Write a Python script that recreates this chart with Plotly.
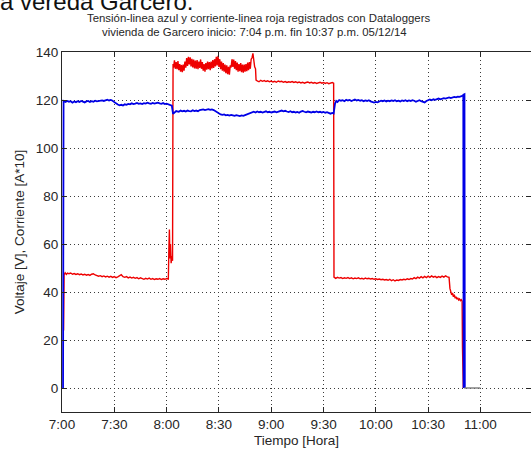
import plotly.graph_objects as go

# Time axis: minutes after 7:00 p.m.
tick_minutes = [0, 30, 60, 90, 120, 150, 180, 210, 240]
tick_labels = ["7:00", "7:30", "8:00", "8:30", "9:00", "9:30", "10:00", "10:30", "11:00"]
y_ticks = [0, 20, 40, 60, 80, 100, 120, 140]

# Voltage (blue) samples: minutes, volts
volt_t = [0.6, 0.9, 2, 3, 4, 5, 6, 7, 8, 9, 10, 11, 12, 13, 14, 15, 16, 17, 18, 19, 20,
          21, 22, 23, 24, 25, 26, 27, 28, 29, 30, 31, 32, 33, 34, 35, 36, 37, 38, 39, 40,
          41, 42, 43, 44, 45, 46, 47, 48, 49, 50, 51, 52, 53, 54, 55, 56, 57, 58, 59, 60,
          61, 62, 63, 63.7, 64.5, 65.5, 67, 68, 69, 70, 71, 72, 73, 74, 75, 76, 77, 78, 79, 80,
          81, 82, 83, 84, 85, 86, 87, 88, 89, 90, 91, 92, 93, 94, 95, 96, 97, 98, 99, 100,
          101, 102, 103, 104, 105, 106, 107, 108, 109, 110, 111, 112, 113, 114, 115, 116, 117, 118, 119, 120,
          121, 122, 123, 124, 125, 126, 127, 128, 129, 130, 131, 132, 133, 134, 135, 136, 137, 138, 139, 140,
          141, 142, 143, 144, 145, 146, 147, 148, 149, 150, 151, 152, 153, 154, 155, 155.8, 156.6, 157.3, 158, 159, 160,
          161, 162, 163, 164, 165, 166, 167, 168, 169, 170, 171, 172, 173, 174, 175, 176, 177, 178, 179, 180,
          181, 182, 183, 184, 185, 186, 187, 188, 189, 190, 191, 192, 193, 194, 195, 196, 197, 198, 199, 200,
          201, 202, 203, 204, 205, 206, 207, 208, 209, 210, 211, 212, 213, 214, 215, 216, 217, 218, 219, 220,
          221, 222, 223, 224, 225, 226, 227, 228, 229, 230, 230.5, 230.7]
volt_v = [0, 119.6, 119.2, 119.6, 119.3, 119.5, 118.9, 119.4, 119.1, 119.5, 119.2, 119.6, 119.3, 119.0, 119.4, 119.6, 119.2, 119.5, 119.3, 119.7, 119.4,
          119.6, 119.5, 119.8, 119.6, 119.9, 120.1, 119.8, 120.0, 119.7, 119.3, 118.6, 118.1, 117.8, 118.0, 117.7, 118.2, 118.0, 118.4, 118.2, 118.6,
          118.3, 118.5, 118.8, 118.4, 118.6, 118.3, 118.7, 118.5, 118.9, 118.6, 118.4, 118.8, 118.5, 118.7, 118.9, 118.6, 118.4, 118.7, 118.3, 118.5,
          118.2, 118.0, 117.6, 114.2, 114.6, 115.4, 115.1, 115.6, 115.3, 115.5, 115.2, 115.6, 115.4, 115.3, 115.7, 115.4, 115.6, 115.3, 115.8, 115.9,
          116.1, 115.8, 116.0, 116.2, 115.9, 116.1, 115.8, 115.3, 114.9, 114.4, 114.0, 113.8, 114.0, 113.6, 113.8, 113.5, 113.8, 113.6, 113.4, 113.7,
          113.5, 113.3, 113.6, 113.4, 113.7, 114.0, 114.3, 114.6, 114.9, 115.1, 114.8, 115.2, 114.9, 115.1, 114.8, 115.0, 115.3, 114.9, 115.1, 114.8,
          115.0, 115.2, 114.9, 115.1, 115.4, 115.6, 115.3, 115.5, 115.2, 115.0, 115.3, 114.9, 115.1, 114.8, 115.0, 114.7, 115.2, 115.4, 115.1, 114.9,
          115.2, 115.0, 114.8, 115.1, 114.9, 115.2, 114.9, 115.1, 114.8, 115.0, 114.7, 114.9, 114.6, 114.3, 114.6, 114.4, 118.5, 119.6, 119.2, 120.0, 119.7,
          119.9, 119.5, 120.1, 119.8, 120.0, 119.6, 119.9, 120.2, 119.8, 120.0, 119.7, 119.9, 119.5, 119.8, 119.6, 119.9, 119.4, 119.1, 118.9, 119.2,
          119.0, 119.4, 119.7, 119.5, 119.8, 119.4, 119.7, 119.5, 119.8, 119.6, 119.9, 119.5, 119.7, 119.4, 119.8, 119.6, 119.9, 119.5, 119.8, 119.6,
          119.9, 119.7, 119.3, 119.6, 119.9, 119.5, 119.2, 119.0, 119.6, 120.0, 120.2, 119.9, 120.3, 120.1, 120.4, 120.6, 120.3, 120.5, 120.8, 120.6,
          120.9, 121.1, 120.8, 121.0, 121.3, 121.1, 121.4, 121.3, 121.6, 121.8, 122.0, 0]

# Current x10 (red) samples: minutes, amperes*10
curr_t = [0.9, 1.2, 1.8, 2.5, 3.2, 4, 5, 6, 7, 8, 9, 10, 11, 12, 13, 14, 15, 16, 17, 18, 19, 20,
          21, 22, 23, 24, 25, 26, 27, 28, 29, 30, 31, 32, 33, 34, 35, 36, 37, 38, 39, 40,
          41, 42, 43, 44, 45, 46, 47, 48, 49, 50, 51, 52, 53, 54, 55, 56, 57, 58, 59, 60,
          61, 61.3, 61.6, 61.9, 62.2, 62.6, 63.0, 63.4, 63.7,
          64.0, 64.5, 65.0, 65.5, 66.0, 66.5, 67.0, 67.5, 68.0, 68.5, 69.0, 69.5, 70.0, 70.5,
          71.0, 71.5, 72.0, 72.5, 73.0, 73.5, 74.0, 74.5, 75.0, 75.5, 76.0, 76.5, 77.0, 77.5,
          78.0, 78.5, 79.0, 79.5, 80.0, 80.5, 81.0, 81.5, 82.0, 82.5, 83.0, 83.5, 84.0, 84.5,
          85.0, 85.5, 86.0, 86.5, 87.0, 87.5, 88.0, 88.5, 89.0, 89.5, 90.0, 90.5, 91.0, 91.5,
          92.0, 92.5, 93.0, 93.5, 94.0, 94.5, 95.0, 95.5, 96.0, 96.5, 97.0, 97.5, 98.0, 98.5,
          99.0, 99.5, 100.0, 100.5, 101.0, 101.5, 102.0, 102.5, 103.0, 103.5, 104.0, 104.5,
          105.0, 105.5, 106.0, 106.5, 107.0, 107.5, 108.0, 108.5, 109.0, 109.5, 110.0, 110.5, 111.0, 111.3,
          112, 113, 114, 115, 116, 117, 118, 119, 120, 121, 122, 123, 124, 125, 126, 127, 128, 129, 130,
          131, 132, 133, 134, 135, 136, 137, 138, 139, 140, 141, 142, 143, 144, 145, 146, 147, 148, 149, 150,
          151, 152, 153, 154, 155, 155.8, 156.0,
          157, 158, 159, 160, 161, 162, 163, 164, 165, 166, 167, 168, 169, 170, 171, 172, 173, 174, 175, 176,
          177, 178, 179, 180, 181, 182, 183, 184, 185, 186, 187, 188, 189, 190, 191, 192, 193, 194, 195, 196,
          197, 198, 199, 200, 201, 202, 203, 204, 205, 206, 207, 208, 209, 210, 211, 212, 213, 214, 215, 216,
          217, 218, 219, 220, 221, 222, 222.5, 223, 223.5, 224, 224.5, 225, 225.5, 226, 226.5, 227, 227.5,
          228, 228.5, 229, 229.5, 229.7, 230.2]
curr_v = [24, 47.2, 48.0, 47.3, 47.9, 47.6, 47.9, 47.4, 47.7, 47.3, 47.6, 47.2, 47.5, 47.1, 47.4, 47.0, 47.3, 46.9, 47.4, 47.6, 47.1, 46.9,
          46.6, 46.8, 46.4, 46.7, 46.3, 46.6, 46.2, 46.5, 46.1, 46.4, 46.0, 46.3, 46.6, 47.2, 46.4, 46.1, 46.4, 45.9, 46.2, 45.8,
          46.1, 45.7, 46.0, 45.5, 45.9, 45.6, 45.3, 45.7, 45.4, 45.8, 45.3, 45.6, 45.2, 45.5, 45.3, 45.6, 45.2, 45.5, 45.3, 45.6,
          45.4, 58, 66, 54, 60, 52, 55, 53, 135,
          133.5, 136.5, 133.0, 135.8, 132.8, 136.2, 132.4, 135.0, 131.8, 134.6, 131.6, 134.8, 132.2, 136.0,
          133.5, 137.5, 134.2, 138.0, 134.8, 137.8, 134.0, 137.2, 133.6, 136.8, 133.2, 136.4, 133.0, 136.6,
          132.8, 136.0, 133.4, 136.9, 133.0, 135.8, 132.2, 135.0, 131.8, 135.4, 132.6, 136.0, 132.8, 135.8,
          132.4, 136.0, 133.2, 136.6, 133.4, 137.0, 134.0, 138.0, 134.4, 138.4, 133.8, 137.0, 132.8, 136.0,
          132.2, 135.4, 131.8, 134.8, 131.2, 134.4, 130.8, 133.8, 130.6, 134.4, 133.6, 137.0, 133.8, 136.8,
          133.0, 136.2, 132.4, 135.6, 131.8, 135.0, 132.0, 135.4, 131.6, 134.8, 131.4, 134.8,
          131.8, 135.0, 132.0, 135.6, 132.4, 135.8, 133.0, 137.0, 137.6, 139.4, 136.0, 133.8, 133.0, 128.3,
          128.0, 127.6, 128.2, 127.8, 128.1, 127.7, 128.0, 127.6, 127.9, 127.5, 127.8, 127.4, 127.9, 127.6, 127.8, 127.4, 127.7, 127.3, 127.6,
          127.4, 127.7, 127.3, 127.6, 127.2, 127.5, 127.1, 127.4, 127.0, 127.3, 127.5, 127.1, 127.4, 127.0, 127.3, 126.9, 127.2, 127.4, 127.0, 127.3,
          126.9, 127.2, 126.8, 127.1, 127.3, 127.0, 46.2,
          45.7, 46.1, 45.8, 46.0, 45.6, 45.9, 45.7, 46.0, 45.6, 45.9, 45.5, 45.8, 45.6, 45.9, 45.5, 45.7, 45.4, 45.8, 45.5, 45.7,
          45.4, 45.6, 45.3, 45.5, 45.2, 45.4, 45.1, 45.3, 45.0, 45.2, 44.9, 45.3, 44.7, 45.1, 44.6, 45.0, 44.8, 45.2, 45.0, 45.3,
          45.1, 45.5, 45.2, 45.6, 45.4, 46.0, 45.6, 46.2, 45.8, 46.4, 45.9, 46.5, 46.0, 46.6, 46.1, 46.7, 46.2, 46.5, 46.0, 46.4,
          46.1, 46.6, 46.2, 46.7, 46.3, 46.1, 41.5, 40.2, 38.8, 39.6, 38.0, 38.9, 37.4, 38.0, 37.0, 37.6, 36.7,
          37.1, 36.4, 36.8, 36.2, 17, 0]

# Logger switched off: flat zero reading
off_t = [230.7, 240]
off_v = [0, 0]

FONT = "Liberation Sans, Arial, sans-serif"
INK = "#262626"
DOTS = "#3a3a3a"

fig = go.Figure()
fig.add_trace(go.Scatter(x=curr_t, y=curr_v, mode="lines",
                         line=dict(color="#ee0000", width=1.4), hoverinfo="skip"))
fig.add_trace(go.Scatter(x=volt_t[:-2], y=volt_v[:-2], mode="lines",
                         line=dict(color="#0000e6", width=1.8), hoverinfo="skip"))
fig.add_trace(go.Scatter(x=volt_t[-3:], y=volt_v[-3:], mode="lines",
                         line=dict(color="#0000e6", width=3), hoverinfo="skip"))
fig.add_trace(go.Scatter(x=off_t, y=off_v, mode="lines",
                         line=dict(color="#7a7a7a", width=1.4), hoverinfo="skip"))
# empty trace that carries the right-hand tick axis
fig.add_trace(go.Scatter(x=[], y=[], yaxis="y2", mode="lines", hoverinfo="skip"))

axis_font = dict(size=13.5, family=FONT, color=INK)

fig.update_layout(
    width=531, height=452,
    margin=dict(l=62, r=0, t=52, b=40),
    paper_bgcolor="white", plot_bgcolor="white",
    showlegend=False,
    font=dict(family=FONT, color=INK, size=13),
    xaxis=dict(
        range=[0, 269], tickvals=tick_minutes, ticktext=tick_labels,
        ticks="inside", ticklen=5, tickcolor=INK, mirror="ticks",
        showline=True, linecolor=INK, linewidth=1,
        showgrid=True, gridcolor=DOTS, gridwidth=1, griddash="1px,3px",
        zeroline=False, tickfont=axis_font, ticklabelstandoff=0,
        title=dict(text="Tiempo [Hora]", font=axis_font, standoff=4),
    ),
    yaxis=dict(
        range=[-10, 140], tickvals=y_ticks,
        ticks="inside", ticklen=5, tickcolor=INK,
        showline=True, linecolor=INK, linewidth=1,
        showgrid=True, gridcolor=DOTS, gridwidth=1, griddash="1px,3px",
        zeroline=False, tickfont=axis_font,
        title=dict(text="Voltaje [V], Corriente [A*10]", font=axis_font, standoff=8),
    ),
    yaxis2=dict(
        overlaying="y", side="right", anchor="x",
        range=[-10, 140], tickvals=y_ticks, showticklabels=False,
        ticks="inside", ticklen=5, tickcolor=INK,
        showline=False, showgrid=False, zeroline=False,
    ),
    annotations=[
        dict(text="Tensión-linea azul y corriente-linea roja registrados con Dataloggers",
             xref="paper", yref="paper", x=(258 - 62) / 469, y=(412 - 18) / 360,
             xanchor="center", yanchor="middle", showarrow=False,
             font=dict(size=11.4, family=FONT, color=INK)),
        dict(text="vivienda de Garcero inicio: 7:04 p.m. fin 10:37 p.m. 05/12/14",
             xref="paper", yref="paper", x=(254 - 62) / 469, y=(412 - 32) / 360,
             xanchor="center", yanchor="middle", showarrow=False,
             font=dict(size=11.4, family=FONT, color=INK)),
        dict(text="a vereda Garcero.",
             xref="paper", yref="paper", x=(-2 - 62) / 469, y=(412 - 1) / 360,
             xanchor="left", yanchor="middle", showarrow=False,
             font=dict(size=24, family=FONT, color="#111111")),
    ],
)

fig.write_html("out.html")
